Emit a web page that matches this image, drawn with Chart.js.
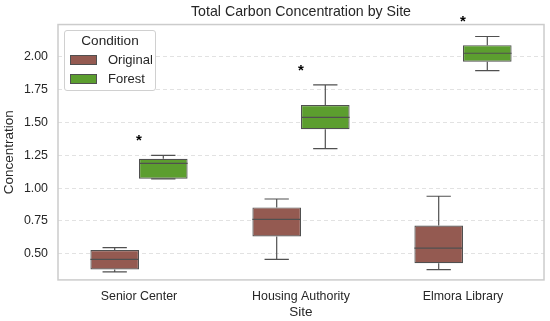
<!DOCTYPE html>
<html>
<head>
<meta charset="utf-8">
<script src="https://cdn.jsdelivr.net/npm/chart.js@4.4.0/dist/chart.umd.min.js"></script>
<style>
  body { margin: 0; background: #fff; }
  #wrap { position: relative; width: 550px; height: 321px; }
  .legend {
    position: absolute; left: 64px; top: 30px; width: 90px; height: 59px;
    border: 1px solid #d0d0d0; border-radius: 3px; background: #fff;
    font-family: 'Liberation Sans', Arial, sans-serif; font-size: 13px; color: #262626;
    white-space: nowrap;
  }
  .legend .ttl { position: absolute; left: 0; right: 0; top: 2px; text-align: center; font-size: 13.6px; }
  .legend .row { position: absolute; left: 5px; height: 16px; line-height: 16px; }
  .legend .sw { display: inline-block; width: 25px; height: 8px; border: 1px solid #505050; vertical-align: middle; margin-right: 11px; position: relative; top: -1px; }
</style>
</head>
<body>
<div id="wrap">
  <canvas id="c" width="550" height="321"></canvas>
  <div class="legend">
    <div class="ttl">Condition</div>
    <div class="row" style="top:21px"><span class="sw" style="background:#945a51"></span>Original</div>
    <div class="row" style="top:40px"><span class="sw" style="background:#5c9e2f"></span>Forest</div>
  </div>
</div>
<script>
// site names and box stats
const sites = ['Senior Center', 'Housing Authority', 'Elmora Library'];
const origMin = [0.362, 0.456, 0.379];
const origQ1  = [0.379, 0.631, 0.428];
const origMed = [0.456, 0.761, 0.543];
const origQ3  = [0.528, 0.853, 0.715];
const origMax = [0.546, 0.917, 0.938];
const forMin  = [1.071, 1.301, 1.895];
const forQ1   = [1.071, 1.449, 1.964];
const forMed  = [1.188, 1.539, 2.028];
const forQ3   = [1.224, 1.634, 2.090];
const forMax  = [1.250, 1.787, 2.156];
const starY   = [1.365, 1.902, 2.274];
const yTicks  = [0.5, 0.75, 1.0, 1.25, 1.5, 1.75, 2.0];

const FONT = "'Liberation Sans', Arial, sans-serif";
const TXT = '#262626';
const EDGE = '#505050';

const stats = [
  { min: origMin, med: origMed, max: origMax },
  { min: forMin, med: forMed, max: forMax }
];

// whiskers, caps, medians, stars and frame
const boxExtras = {
  id: 'boxExtras',
  afterDatasetsDraw(chart) {
    const ctx = chart.ctx;
    const y = chart.scales.y;
    ctx.save();
    ctx.strokeStyle = EDGE;
    ctx.lineWidth = 1.2;
    stats.forEach((s, i) => {
      chart.getDatasetMeta(i).data.forEach((el, j) => {
        const x = el.x, w = el.width;
        const d = chart.data.datasets[i].data[j];
        const pMin = y.getPixelForValue(s.min[j]);
        const pMax = y.getPixelForValue(s.max[j]);
        const pQ1 = y.getPixelForValue(d[0]);
        const pQ3 = y.getPixelForValue(d[1]);
        const pMed = y.getPixelForValue(s.med[j]);
        ctx.beginPath();
        ctx.moveTo(x, pQ3); ctx.lineTo(x, pMax);
        ctx.moveTo(x - w / 4, pMax); ctx.lineTo(x + w / 4, pMax);
        ctx.moveTo(x, pQ1); ctx.lineTo(x, pMin);
        ctx.moveTo(x - w / 4, pMin); ctx.lineTo(x + w / 4, pMin);
        ctx.moveTo(x - w / 2, pMed); ctx.lineTo(x + w / 2, pMed);
        ctx.stroke();
      });
    });
    // significance stars
    ctx.fillStyle = '#000';
    ctx.font = 'bold 15px ' + FONT;
    ctx.textAlign = 'center';
    ctx.textBaseline = 'alphabetic';
    const xs = chart.scales.x;
    starY.forEach((v, j) => {
      ctx.fillText('*', xs.getPixelForValue(j), y.getPixelForValue(v) + 5);
    });
    // frame
    const a = chart.chartArea;
    ctx.strokeStyle = '#cccccc';
    ctx.lineWidth = 1.5;
    ctx.strokeRect(a.left, a.top, a.right - a.left, a.bottom - a.top);
    ctx.restore();
  }
};

new Chart(document.getElementById('c'), {
  type: 'bar',
  data: {
    labels: sites,
    datasets: [
      {
        label: 'Original',
        data: sites.map((_, i) => [origQ1[i], origQ3[i]]),
        backgroundColor: '#945a51',
        borderColor: EDGE,
        borderWidth: 1.2,
        borderSkipped: false
      },
      {
        label: 'Forest',
        data: sites.map((_, i) => [forQ1[i], forQ3[i]]),
        backgroundColor: '#5c9e2f',
        borderColor: EDGE,
        borderWidth: 1.2,
        borderSkipped: false
      }
    ]
  },
  options: {
    responsive: false,
    animation: false,
    categoryPercentage: 0.6,
    barPercentage: 1.0,
    layout: { padding: { right: 6, bottom: 1, top: 0, left: 0 } },
    plugins: {
      legend: { display: false },
      tooltip: { enabled: false },
      title: {
        display: true,
        fullSize: false,
        text: 'Total Carbon Concentration by Site',
        color: TXT,
        font: { family: FONT, size: 14.2, weight: 'normal' },
        padding: { top: 4, bottom: 3.5 }
      }
    },
    scales: {
      x: {
        grid: { display: false, drawTicks: false },
        border: { display: false },
        ticks: { color: TXT, font: { family: FONT, size: 12.4 }, padding: 9 },
        title: { display: true, text: 'Site', color: TXT, font: { family: FONT, size: 13.5 }, padding: { top: -9, bottom: 0 } }
      },
      y: {
        min: 0.30,
        max: 2.247,
        afterBuildTicks: s => { s.ticks = yTicks.map(v => ({ value: v })); },
        afterFit: s => { s.width = 58; },
        grid: { color: '#e2e2e2', lineWidth: 1, drawTicks: false },
        border: { display: false, dash: [4, 3] },
        ticks: { color: TXT, font: { family: FONT, size: 12.4 }, padding: 10, callback: v => v.toFixed(2) },
        title: { display: true, text: 'Concentration', color: TXT, font: { family: FONT, size: 13.5 }, padding: { top: 1, bottom: 0 } }
      }
    }
  },
  plugins: [boxExtras]
});
</script>
</body>
</html>
